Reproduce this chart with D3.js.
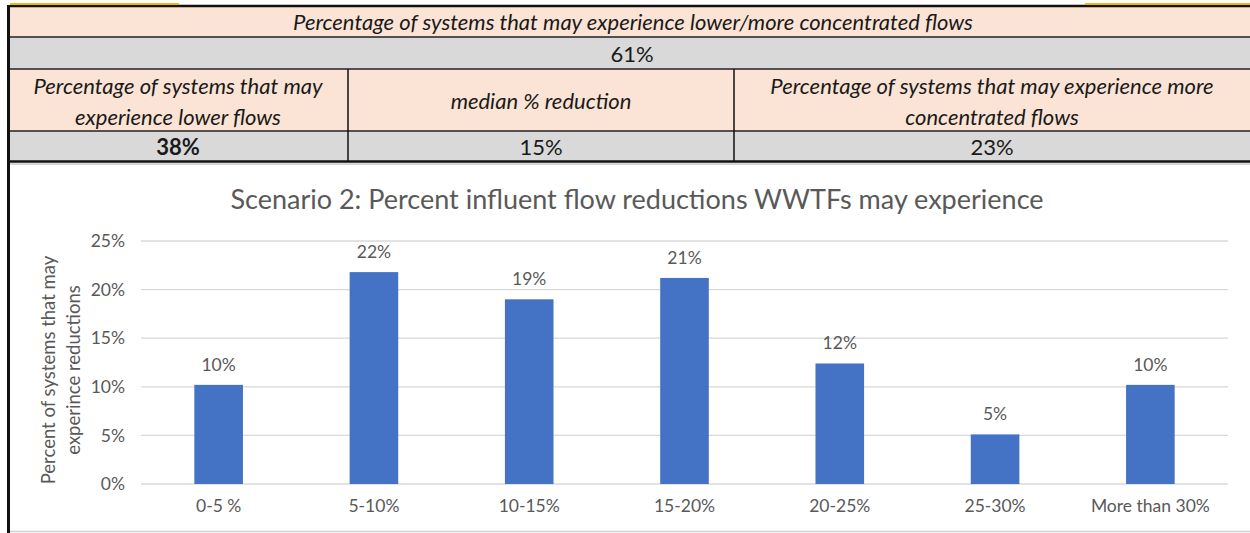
<!DOCTYPE html>
<meta charset="utf-8">
<style>
body { margin: 0; background: #fff; }
svg { display: block; }
text { font-family: Lato, 'Open Sans', sans-serif; }
.cell-text { fill: #1a1a1a; font-size: 22px; }
.chart-text { fill: #595959; }
.grid line { stroke: #d9d9d9; stroke-width: 1.3px; }
</style>
<svg width="1250" height="533"></svg>
<script src="https://cdnjs.cloudflare.com/ajax/libs/d3/7.8.5/d3.min.js"></script>
<script>
// table contents
var tableTitle = "Percentage of systems that may experience lower/more concentrated flows";
var overallPct = "61%";
var headerCells = [
	["Percentage of systems that may", "experience lower flows"],
	["median % reduction"],
	["Percentage of systems that may experience more", "concentrated flows"]
];
var valueCells = ["38%", "15%", "23%"];

// chart data
var chartTitle = "Scenario 2: Percent influent flow reductions WWTFs may experience";
var categories = ["0-5 %", "5-10%", "10-15%", "15-20%", "20-25%", "25-30%", "More than 30%"];
var values = [10.2, 21.8, 19.0, 21.2, 12.4, 5.1, 10.2];
var yTicks = [0, 5, 10, 15, 20, 25];
var yTitle = ["Percent of systems that may", "experince reductions"];

var svg = d3.select("svg");
var peach = "#fbe4d5", gray = "#d9d9d9";
var fontSmall = "17.5px";

// ---- table ----
var colX = [8, 348, 734, 1250];
var rowY = [7, 37, 69, 131, 161];
var table = svg.append("g").attr("class", "table");

// backgrounds
var fills = [peach, gray, peach, gray];
fills.forEach(function(f, i) {
	table.append("rect").attr("x", colX[0]).attr("y", rowY[i])
		.attr("width", colX[3] - colX[0]).attr("height", rowY[i + 1] - rowY[i]).attr("fill", f);
});

// row lines
[rowY[1], rowY[2], rowY[3]].forEach(function(y) {
	table.append("line").attr("x1", colX[0]).attr("x2", colX[3]).attr("y1", y).attr("y2", y)
		.attr("stroke", "#222").attr("stroke-width", 1.5);
});
// column lines
[colX[1], colX[2]].forEach(function(x) {
	table.append("line").attr("x1", x).attr("x2", x).attr("y1", rowY[2]).attr("y2", rowY[4])
		.attr("stroke", "#111").attr("stroke-width", 1.5);
});
// yellow/black top border
table.append("line").attr("x1", 10).attr("x2", 1250).attr("y1", 6).attr("y2", 6).attr("stroke", "#111").attr("stroke-width", 2.5);
table.append("line").attr("x1", 10).attr("x2", 179).attr("y1", 4).attr("y2", 4).attr("stroke", "#f2b705").attr("stroke-width", 2);
table.append("line").attr("x1", 1085).attr("x2", 1250).attr("y1", 4).attr("y2", 4).attr("stroke", "#f2b705").attr("stroke-width", 2);
// bottom thick border + shadow
table.append("line").attr("x1", colX[0]).attr("x2", colX[3]).attr("y1", 161.5).attr("y2", 161.5).attr("stroke", "#111").attr("stroke-width", 2.5);
table.append("line").attr("x1", colX[0]).attr("x2", colX[3]).attr("y1", 164).attr("y2", 164).attr("stroke", "#c8c8c8").attr("stroke-width", 1.5);

// texts
table.append("text").attr("class", "cell-text").attr("x", (colX[0] + colX[3]) / 2 + 4).attr("y", 30)
	.attr("text-anchor", "middle").style("font-style", "italic").text(tableTitle);
table.append("text").attr("class", "cell-text").attr("x", (colX[0] + colX[3]) / 2 + 3).attr("y", 62)
	.attr("text-anchor", "middle").text(overallPct);

headerCells.forEach(function(lines, i) {
	var cx = (colX[i] + colX[i + 1]) / 2;
	var t = table.append("text").attr("class", "cell-text").attr("text-anchor", "middle")
		.style("font-style", "italic");
	var y0 = lines.length === 1 ? 109 : 94;
	lines.forEach(function(l, j) {
		t.append("tspan").attr("x", cx).attr("y", y0 + j * 31).text(l);
	});
});
valueCells.forEach(function(v, i) {
	table.append("text").attr("class", "cell-text").attr("text-anchor", "middle")
		.attr("x", (colX[i] + colX[i + 1]) / 2).attr("y", 155)
		.style("font-weight", i === 0 ? "bold" : "normal").text(v);
});

// ---- chart ----
var plot = { left: 141, right: 1228, top: 241, bottom: 484 };
var x = d3.scaleBand().domain(categories).range([plot.left, plot.right]).paddingInner(0.687).paddingOuter(0.3435);
var y = d3.scaleLinear().domain([0, 25]).range([plot.bottom, plot.top]);

var chart = svg.append("g").attr("class", "chart");

chart.append("text").attr("class", "chart-text").attr("x", 637).attr("y", 209)
	.attr("text-anchor", "middle").style("font-size", "27px").text(chartTitle);

var grid = chart.append("g").attr("class", "grid");
grid.selectAll("line").data(yTicks).enter().append("line")
	.attr("x1", plot.left).attr("x2", plot.right)
	.attr("y1", function(d) { return y(d); }).attr("y2", function(d) { return y(d); });

var yAxis = d3.axisLeft(y).tickValues(yTicks).tickSize(0).tickPadding(16)
	.tickFormat(function(d) { return d + "%"; });
chart.append("g").attr("transform", "translate(" + plot.left + ",0)").call(yAxis)
	.call(function(g) { g.select(".domain").remove(); })
	.selectAll("text").attr("class", "chart-text").style("font-size", fontSmall).style("font-family", "Lato, 'Open Sans', sans-serif");

var xAxis = d3.axisBottom(x).tickSize(0).tickPadding(16);
chart.append("g").attr("transform", "translate(0," + plot.bottom + ")").call(xAxis)
	.call(function(g) { g.select(".domain").remove(); })
	.selectAll("text").attr("class", "chart-text").style("font-size", fontSmall).style("font-family", "Lato, 'Open Sans', sans-serif");

chart.selectAll("rect.bar").data(values).enter().append("rect").attr("class", "bar")
	.attr("x", function(d, i) { return x(categories[i]); })
	.attr("width", x.bandwidth())
	.attr("y", function(d) { return y(d); })
	.attr("height", function(d) { return y(0) - y(d); })
	.attr("fill", "#4472c4");

chart.selectAll("text.lbl").data(values).enter().append("text").attr("class", "lbl chart-text")
	.attr("x", function(d, i) { return x(categories[i]) + x.bandwidth() / 2; })
	.attr("y", function(d) { return y(d) - 14; })
	.attr("text-anchor", "middle").style("font-size", fontSmall)
	.text(function(d) { return Math.round(d) + "%"; });

var yt = chart.append("text").attr("class", "chart-text").attr("text-anchor", "middle")
	.style("font-size", "18.5px").attr("transform", "translate(0,370) rotate(-90)");
yTitle.forEach(function(l, j) {
	yt.append("tspan").attr("x", 0).attr("y", 55 + j * 25).text(l);
});

// frame: left thick border and bottom rule
svg.append("line").attr("x1", 8.5).attr("x2", 8.5).attr("y1", 5).attr("y2", 533).attr("stroke", "#111").attr("stroke-width", 3);
svg.append("line").attr("x1", 10).attr("x2", 1250).attr("y1", 531.5).attr("y2", 531.5).attr("stroke", "#d0d0d0").attr("stroke-width", 1.5);
</script>
